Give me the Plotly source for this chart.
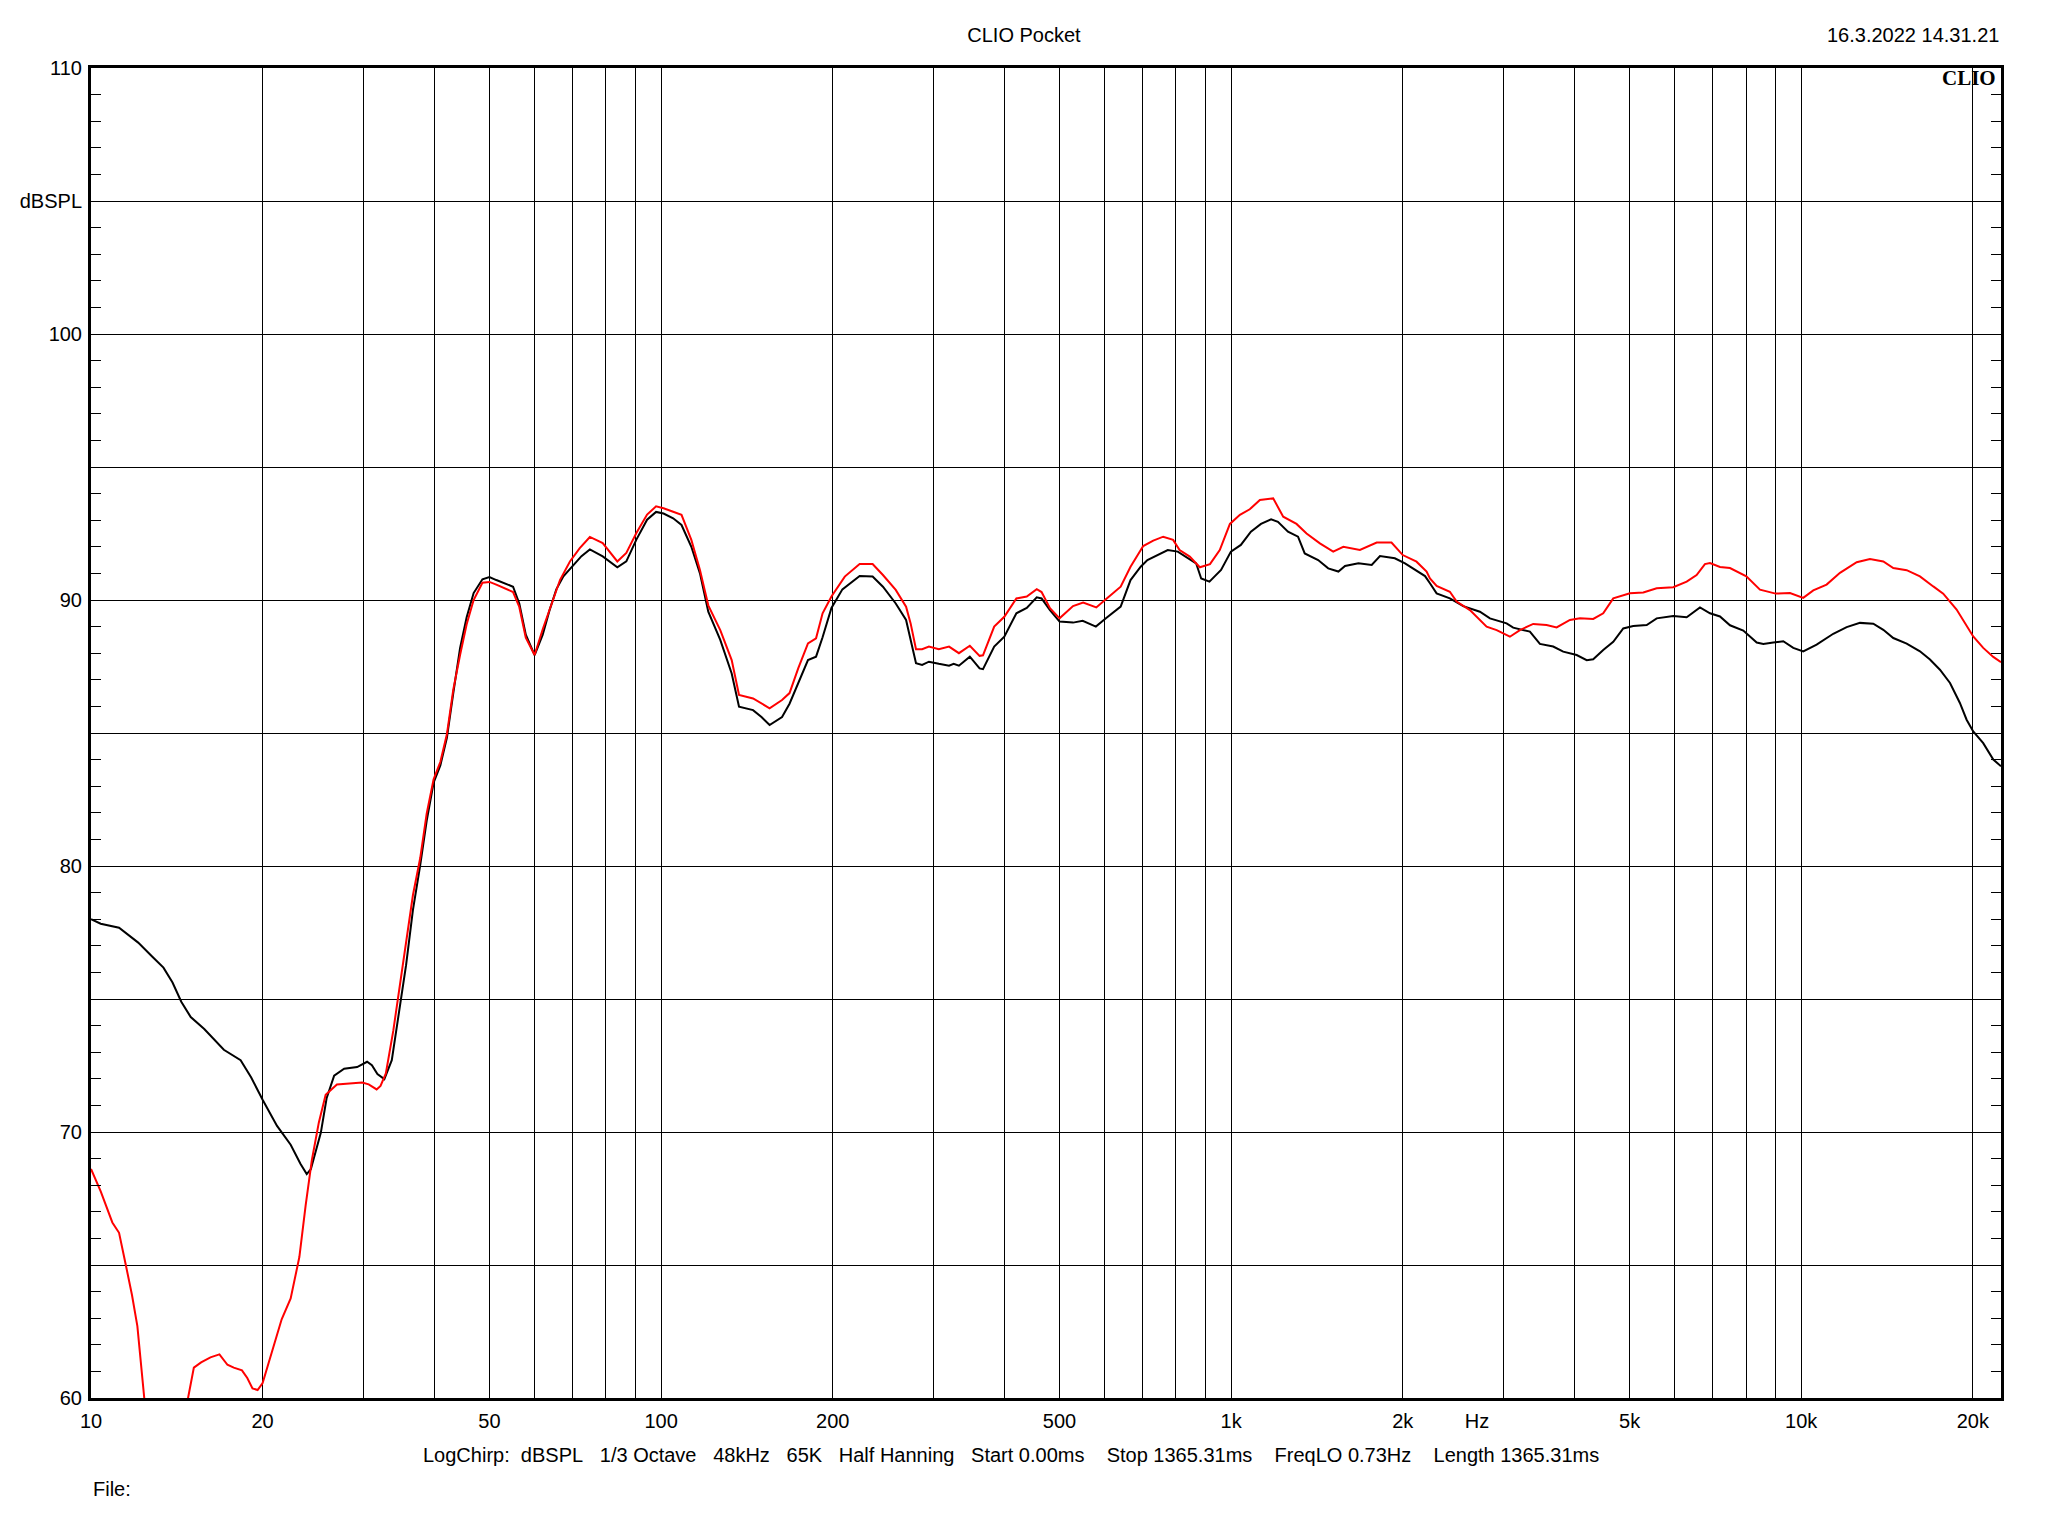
import plotly.graph_objects as go

# ---- data ----
black_freq = [10, 10.4, 11.2, 11.6, 12.1, 12.8, 13.4, 13.9, 14.4, 14.96, 15.8, 17.1, 18.3, 19.1, 20,
              21.2, 22.4, 23.3, 23.9, 24.3, 25.3, 25.9, 26.7, 27.8, 29.3, 30.5, 31.1, 31.8, 32.7, 33.7,
              34.7, 35.7, 36.7, 37.8, 38.8, 39.9, 41.0, 42.1, 43.2, 44.4, 45.6, 46.9, 48.6, 50, 51.4,
              55, 56.4, 57.9, 60, 62, 63.7, 65.5, 67.4, 70, 72.5, 75, 79, 83.8, 86.9, 90.5, 94.5, 98,
              101, 105, 108.6, 113, 117, 121, 127, 133, 137, 145, 150, 155, 163, 168, 174, 181, 187,
              192, 199, 208, 223, 235, 245, 258, 269, 274, 280, 287, 295, 307, 320, 326, 333, 348,
              362, 367, 384, 400, 420, 438, 456, 465, 481, 500, 528, 549, 579, 603, 640, 666, 694,
              713, 743, 774, 806, 839, 868, 886, 916, 960, 999, 1040, 1083, 1128, 1175, 1208, 1258,
              1310, 1346, 1421, 1480, 1542, 1584, 1672, 1764, 1824, 1937, 2018, 2101, 2188, 2232,
              2293, 2419, 2553, 2731, 2844, 3042, 3124, 3342, 3480, 3672, 3824, 4037, 4204, 4316,
              4494, 4680, 4873, 5073, 5357, 5577, 5963, 6296, 6643, 6917, 7202, 7499, 7913, 8354,
              8580, 8932, 9300, 9683, 10081, 10641, 11381, 12014, 12676, 13377, 13930, 14504, 15309,
              16152, 16820, 17510, 18237, 18980, 19502, 20030, 20856, 21720, 22410]
black_db = [78.0, 77.83, 77.68, 77.44, 77.12, 76.6, 76.18, 75.62, 74.9, 74.32, 73.87, 73.09, 72.7, 72.05, 71.21,
            70.23, 69.52, 68.81, 68.42, 68.6, 69.97, 71.27, 72.12, 72.38, 72.44, 72.64, 72.51, 72.18, 71.99, 72.7,
            74.59, 76.27, 78.34, 80.03, 81.7, 83.13, 83.78, 84.82, 86.5, 88.19, 89.35, 90.26, 90.78, 90.86, 90.75,
            90.5, 89.87, 88.7, 87.93, 88.7, 89.6, 90.4, 90.89, 91.27, 91.65, 91.9, 91.64, 91.23, 91.45, 92.27, 93.02, 93.31,
            93.25, 93.07, 92.82, 92.0, 91.0, 89.56, 88.5, 87.24, 85.99, 85.86, 85.6, 85.3, 85.6, 86.1, 86.9, 87.74, 87.87,
            88.6, 89.7, 90.4, 90.9, 90.88, 90.5, 89.87, 89.25, 88.5, 87.62, 87.56, 87.68, 87.6, 87.53, 87.6, 87.53, 87.87,
            87.43, 87.4, 88.25, 88.62, 89.5, 89.7, 90.1, 90.06, 89.62, 89.19, 89.15, 89.22, 89.0, 89.31, 89.75, 90.75, 91.25,
            91.5, 91.7, 91.88, 91.82, 91.57, 91.38, 90.81, 90.69, 91.13, 91.82, 92.07, 92.57, 92.86, 93.03, 92.94, 92.57,
            92.38, 91.75, 91.5, 91.19, 91.07, 91.28, 91.38, 91.32, 91.65, 91.57, 91.38, 91.13, 90.9, 90.63,
            90.25, 90.06, 89.77, 89.56, 89.31, 89.12, 88.96, 88.81, 88.35, 88.25, 88.06, 87.93, 87.74, 87.77,
            88.12, 88.43, 88.93, 89.02, 89.06, 89.31, 89.4, 89.35, 89.72, 89.5, 89.38, 89.05, 88.85, 88.4,
            88.35, 88.4, 88.45, 88.2, 88.07, 88.32, 88.73, 88.98, 89.14, 89.11, 88.88, 88.57, 88.36,
            88.07, 87.76, 87.38, 86.88, 86.13, 85.5, 85.06, 84.62, 84.0, 83.75]

red_freq = [10, 10.4, 10.9, 11.2, 11.5, 11.8, 12.06, 12.2, 12.4, 12.8, 13.6, 14.3, 14.8, 15.15, 15.6, 16.2,
            16.8, 17.35, 17.8, 18.4, 18.8, 19.2, 19.6, 20, 20.8, 21.6, 22.4, 23.2, 23.8, 24.4, 25.1, 25.8,
            27.0, 28.5, 29.9, 30.7, 31.7, 32.2, 32.9, 33.9, 34.7, 35.7, 36.7, 37.8, 38.8, 39.9, 41.0, 42.1,
            43.2, 44.4, 45.6, 46.9, 48.6, 50, 51.4, 55, 56.4, 57.9, 60, 62, 63.7, 66.5, 69.2, 72, 75, 79,
            83.8, 86.9, 90.5, 94.5, 98, 101, 105, 108.6, 113, 117, 121, 127, 133, 137, 145, 150, 155, 163,
            168, 174, 181, 187, 192, 199, 210, 223, 235, 245, 258, 269, 274, 280, 287, 295, 307, 320, 333,
            348, 362, 367, 384, 400, 420, 438, 456, 465, 481, 500, 528, 550, 580, 605, 640, 666, 701, 730,
            760, 791, 812, 846, 881, 918, 955, 995, 1036, 1078, 1123, 1185, 1234, 1302, 1356, 1431, 1510,
            1573, 1682, 1800, 1911, 2000, 2114, 2202, 2232, 2293, 2419, 2486, 2623, 2806, 2922, 3083, 3210,
            3387, 3575, 3723, 3929, 4091, 4316, 4494, 4680, 5006, 5284, 5577, 5963, 6296, 6553, 6777, 6917,
            7202, 7499, 8012, 8464, 9017, 9556, 10081, 10498, 11078, 11694, 12511, 13198, 13930, 14504,
            15309, 16152, 17045, 17745, 18729, 20030, 20856, 21720, 22410]
red_db = [68.61, 67.77, 66.6, 66.21, 65.04, 63.87, 62.7, 61.53, 60.0, 57.5, 55.5, 57.5, 60.0, 61.14, 61.34, 61.53,
          61.64, 61.25, 61.14, 61.04, 60.75, 60.36, 60.3, 60.56, 61.79, 62.96, 63.74, 65.3, 67.25, 68.94, 70.36, 71.4,
          71.79, 71.82, 71.86, 71.79, 71.6, 71.73, 72.2, 73.8, 75.3, 77.2, 78.9, 80.3, 81.97, 83.26, 83.91, 84.95,
          86.63, 87.93, 89.09, 90.0, 90.65, 90.68, 90.58, 90.3, 89.74, 88.58, 87.93, 88.9, 89.6, 90.76, 91.45, 91.95, 92.37, 92.14,
          91.45, 91.77, 92.52, 93.21, 93.52, 93.45, 93.32, 93.2, 92.26, 91.13, 89.8, 88.87, 87.74, 86.43, 86.3, 86.1, 85.93, 86.24,
          86.5, 87.43, 88.37, 88.56, 89.5, 90.13, 90.88, 91.35, 91.35, 90.94, 90.38, 89.75, 89.12, 88.15, 88.15, 88.25, 88.15, 88.25, 88.0,
          88.28, 87.9, 87.92, 89.0, 89.37, 90.06, 90.13, 90.41, 90.3, 89.69, 89.31, 89.77, 89.9, 89.72, 90.06, 90.5, 91.25, 92.03, 92.23,
          92.38, 92.26, 91.88, 91.63, 91.23, 91.35, 91.88, 92.86, 93.2, 93.41, 93.76, 93.82, 93.13, 92.86, 92.5, 92.13, 91.82,
          92.0, 91.88, 92.16, 92.16, 91.69, 91.44, 91.07, 90.81, 90.53, 90.31, 89.94, 89.62, 89.0, 88.87, 88.62, 88.87,
          89.1, 89.06, 88.97, 89.25, 89.31, 89.29, 89.5, 90.06, 90.25, 90.28, 90.44, 90.48, 90.69, 90.94, 91.35, 91.39,
          91.24, 91.2, 90.89, 90.39, 90.24, 90.26, 90.08, 90.36, 90.58, 91.02, 91.42, 91.54, 91.45, 91.2,
          91.12, 90.89, 90.51, 90.24, 89.64, 88.63, 88.2, 87.86, 87.66]

x_tick_vals = [10, 20, 50, 100, 200, 500, 1000, 2000, 2700, 5000, 10000, 20000]
x_tick_text = ["10", "20", "50", "100", "200", "500", "1k", "2k", "Hz", "5k", "10k", "20k"]
x_grid_vals = [m * d for d in (10, 100, 1000) for m in range(1, 10)] + [10000, 20000]
y_tick_vals = [60, 65, 70, 75, 80, 85, 90, 95, 100, 105, 110]
y_tick_text = ["60", "", "70", "", "80", "", "90", "", "100", "dBSPL", "110"]

title_text = "CLIO Pocket"
date_text = "16.3.2022 14.31.21"
NB = "\u00a0"
info_text = ("LogChirp:" + NB * 2 + "dBSPL" + NB * 3 + "1/3 Octave" + NB * 3 + "48kHz" + NB * 3 + "65K"
             + NB * 3 + "Half Hanning" + NB * 3 + "Start 0.00ms" + NB * 4 + "Stop 1365.31ms"
             + NB * 4 + "FreqLO 0.73Hz" + NB * 4 + "Length 1365.31ms")

FONT = "Liberation Sans, Arial, sans-serif"
FS = 20

# the page body has an 8 px margin; the figure is sized so that it fits the window
W, H = 2032, 1520
ML, MT, MR, MB = 83, 60, 39, 130
PW, PH = W - ML - MR, H - MT - MB

fig = go.Figure()
fig.add_trace(go.Scatter(x=black_freq, y=black_db, mode="lines",
                         line=dict(color="black", width=2), showlegend=False))
fig.add_trace(go.Scatter(x=red_freq, y=red_db, mode="lines",
                         line=dict(color="#ff0000", width=2), showlegend=False))

fig.update_layout(
    width=W, height=H,
    margin=dict(l=ML, r=MR, t=MT, b=MB),
    paper_bgcolor="white", plot_bgcolor="white",
    font=dict(family=FONT, size=FS, color="black"),
    title=dict(text=title_text, x=0.5, xref="container", xanchor="center",
               y=1 - 27 / H, yref="container", yanchor="middle",
               font=dict(family=FONT, size=FS, color="black")),
)

fig.update_xaxes(
    type="log", range=[1, 4.3504],
    showline=True, linecolor="black", linewidth=3, mirror=True,
    showgrid=False, zeroline=False,
    tickmode="array", tickvals=x_tick_vals, ticktext=x_tick_text, ticks="",
    tickfont=dict(family=FONT, size=FS, color="black"),
    ticklabelstandoff=3,
    minor=dict(tickmode="array", tickvals=x_grid_vals, showgrid=True,
               gridcolor="black", gridwidth=1, ticks=""),
)
fig.update_yaxes(
    range=[60, 110],
    showline=True, linecolor="black", linewidth=3, mirror="ticks",
    showgrid=True, gridcolor="black", gridwidth=1, zeroline=False,
    tickmode="array", tickvals=y_tick_vals, ticktext=y_tick_text,
    ticks="inside", ticklen=10, tickcolor="black", tickwidth=1,
    tickfont=dict(family=FONT, size=FS, color="black"),
    ticklabelstandoff=2,
    minor=dict(dtick=1, tick0=0, ticks="inside", ticklen=10, tickcolor="black",
               tickwidth=1, showgrid=False),
)

fig.add_annotation(text=date_text, xref="paper", yref="paper", x=1, y=1 + 33 / PH,
                   xanchor="right", yanchor="middle", showarrow=False,
                   font=dict(family=FONT, size=FS, color="black"))
fig.add_annotation(text="<b>CLIO</b>", xref="paper", yref="paper", x=1 - 3 / PW, y=1 - 10 / PH,
                   xanchor="right", yanchor="middle", showarrow=False,
                   font=dict(family="Liberation Serif, Times New Roman, serif", size=21, color="black"))
fig.add_annotation(text=info_text, xref="paper", yref="paper", x=(1011 - 91) / PW, y=-(1455 - 1398) / PH,
                   xanchor="center", yanchor="middle", showarrow=False,
                   font=dict(family=FONT, size=FS, color="black"))
fig.add_annotation(text="File:", xref="paper", yref="paper", x=0, y=-(1489 - 1398) / PH,
                   xanchor="left", yanchor="middle", showarrow=False,
                   font=dict(family=FONT, size=FS, color="black"))

fig.write_html("out.html")
